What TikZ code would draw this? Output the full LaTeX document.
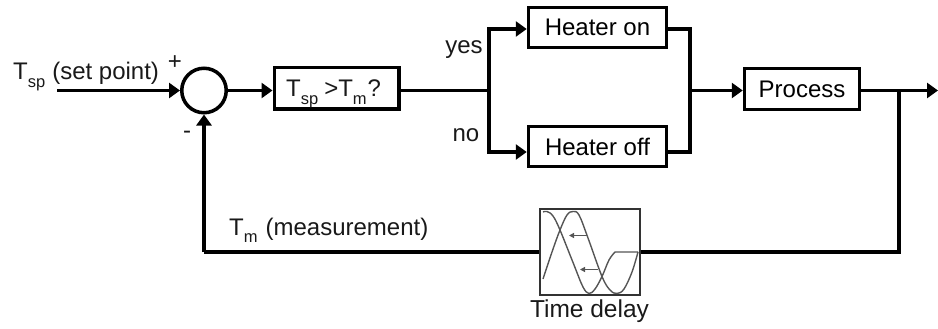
\documentclass[tikz,border=0pt]{standalone}
\usepackage{fontspec}
\setmainfont{Liberation Sans}
\usetikzlibrary{arrows.meta}
\definecolor{curvec}{RGB}{85,85,85}
\newcommand{\lowtext}[1]{\raisebox{-7.5pt}{\fontsize{16.5}{18}\selectfont #1}}

\begin{document}
\begin{tikzpicture}[
  x=1pt, y=-1pt,
  >={Triangle[length=11pt,width=15pt]},
  every node/.style={font=\fontsize{24}{28}\selectfont},
  blk/.style={rectangle, draw=black, line width=3.5pt, inner sep=0pt},
  wire/.style={line width=3.5pt, black},
  arc/.style={->, line width=3.5pt, black},
  lab/.style={inner sep=0pt, text=black!90},
  curve/.style={line width=1.4pt, curvec},
]
\useasboundingbox (0,0) rectangle (938,329);

\node[circle, draw=black, line width=3.5pt, minimum size=44.5pt, inner sep=0pt] (sum) at (204,90.5) {};
\node[blk, minimum width=124.5pt, minimum height=41.5pt] (cmp) at (336.5,88.5) {};
\node[blk, minimum width=138pt, minimum height=40pt] (on) at (597.5,27.5) {Heater on};
\node[blk, minimum width=138pt, minimum height=40pt] (off) at (597.5,146.5) {Heater off};
\node[blk, minimum width=115pt, minimum height=41pt] (proc) at (802,89) {Process};
\node[rectangle, draw=black!80, line width=1.6pt, inner sep=0pt,
      minimum width=100pt, minimum height=86pt] (delay) at (590,252) {};

% free ends and junctions
\coordinate (sp) at (57,90.5);
\coordinate (branch) at (489,90.5);
\coordinate (onl) at (489,29);
\coordinate (offl) at (489,152);
\coordinate (onr) at (690,29);
\coordinate (offr) at (690,152);
\coordinate (join) at (690,90.5);
\coordinate (tap) at (899,90.5);
\coordinate (out) at (938,90.5);
\coordinate (back) at (899,252);
\coordinate (corner) at (204,252);

\draw[arc] (sp) -- (sum);
\draw[arc] (sum) -- (sum -| cmp.west);
\draw[wire] (sum -| cmp.east) -- (branch);
\draw[arc] (branch) -- (onl) -- (onl -| on.west);
\draw[arc] (branch) -- (offl) -- (offl -| off.west);
\draw[wire] (onl -| on.east) -- (onr) -- (offr) -- (offl -| off.east);
\draw[arc] (join) -- (join -| proc.west);
\draw[arc] (join -| proc.east) -- (out);
\draw[wire] (tap) -- (back) -- (delay);
\draw[wire] (delay) -- (corner);
\draw[arc] (corner) -- (sum);

% waveforms in the delay block
\draw[curve] plot[smooth, tension=.6] coordinates {(543,212) (547,211.5) (553,216) (560,230) (574,265) (583,287) (589,293.5) (595,289) (602,276.5) (609,260) (615,252)} -- (638,252);
\draw[curve] plot[smooth, tension=.6] coordinates {(543,279) (552,252) (560,230) (567,215) (573,211.5) (579,215) (588,238) (602,276.5) (610,290) (617,293.5) (624,289) (632,272) (638,252)};
\draw[curve, -{Triangle[length=5pt,width=5pt]}] (587,235.5) -- (569,235.5);
\draw[curve, -{Triangle[length=5pt,width=5pt]}] (598,269.5) -- (580,269.5);

\node[lab, anchor=base west] (cmptext) at (286,97) {T\lowtext{sp}\hspace{6pt}>T\lowtext{m}\hspace{1pt}?};
\node[lab, anchor=base west] (sptext) at (13,80) {T\lowtext{sp}\hspace{7pt}(set point)};
\node[lab] (plus) at (175,63) {+};
\node[lab] (minus) at (187,135) {-};
\node[lab] (yes) at (464,50) {yes};
\node[lab] (no) at (466,135) {no};
\node[lab, anchor=base west] (meas) at (229,235) {T\lowtext{m}\hspace{8pt}(measurement)};
\node[lab, anchor=base, font=\fontsize{24.5}{28}\selectfont] (delaytext) at (589.5,317) {Time delay};
\end{tikzpicture}
\end{document}
